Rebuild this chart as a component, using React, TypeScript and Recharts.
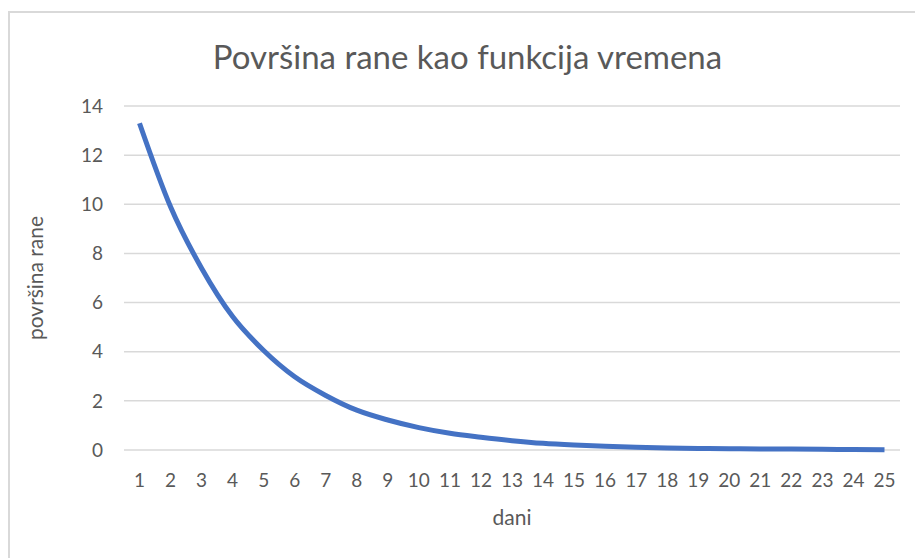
import { LineChart, Line, XAxis, YAxis, CartesianGrid } from "recharts";

const days = [
  "1", "2", "3", "4", "5", "6", "7", "8", "9", "10", "11", "12", "13",
  "14", "15", "16", "17", "18", "19", "20", "21", "22", "23", "24", "25",
];

const woundArea = [
  13.3, 9.9, 7.4, 5.43, 4.05, 2.98, 2.22, 1.62, 1.22, 0.91, 0.68, 0.52, 0.38,
  0.27, 0.2, 0.15, 0.11, 0.08, 0.06, 0.05, 0.04, 0.04, 0.03, 0.02, 0.01,
];

const yTicks = [0, 2, 4, 6, 8, 10, 12, 14];

const data = days.map((d, i) => ({ day: d, area: woundArea[i] }));

const font = "Lato, 'Open Sans', sans-serif";
const textColor = "#595959";

export default function App() {
  return (
    <div
      style={{
        position: "absolute",
        left: 0,
        top: 0,
        width: 915,
        height: 558,
        background: "#fff",
        overflow: "hidden",
        fontFamily: font,
      }}
    >
      <div
        style={{
          position: "absolute",
          left: 8,
          top: 11,
          width: 940,
          height: 600,
          borderTop: "2px solid #d9d9d9",
          borderLeft: "2px solid #d9d9d9",
        }}
      />
      <div
        style={{
          position: "absolute",
          left: 0,
          width: 935,
          top: 36,
          textAlign: "center",
          fontSize: 33,
          color: textColor,
          whiteSpace: "nowrap",
        }}
      >
        Površina rane kao funkcija vremena
      </div>
      <LineChart
        width={915}
        height={558}
        data={data}
        margin={{ top: 106, right: 15, bottom: 0, left: 0 }}
        style={{ position: "absolute", left: 0, top: 0 }}
      >
        <CartesianGrid vertical={false} stroke="#d9d9d9" strokeWidth={1.5} />
        <XAxis
          dataKey="day"
          height={108}
          axisLine={false}
          tickLine={false}
          tickMargin={18}
          interval={0}
          padding={{ left: 15.5, right: 15.5 }}
          tick={{ fill: textColor, fontSize: 19, fontFamily: font }}
          label={{
            value: "dani",
            position: "insideBottom",
            offset: 33,
            fill: textColor,
            fontSize: 21,
            fontFamily: font,
          }}
        />
        <YAxis
          width={124}
          domain={[0, 14]}
          ticks={yTicks}
          axisLine={false}
          tickLine={false}
          tickMargin={15}
          tick={{ fill: textColor, fontSize: 19, fontFamily: font }}
          label={{
            value: "površina rane",
            angle: -90,
            position: "center",
            dx: -26,
            fill: textColor,
            fontSize: 21,
            fontFamily: font,
          }}
        />
        <Line
          type="monotone"
          dataKey="area"
          stroke="#4472c4"
          strokeWidth={5}
          dot={false}
          isAnimationActive={false}
        />
      </LineChart>
    </div>
  );
}
